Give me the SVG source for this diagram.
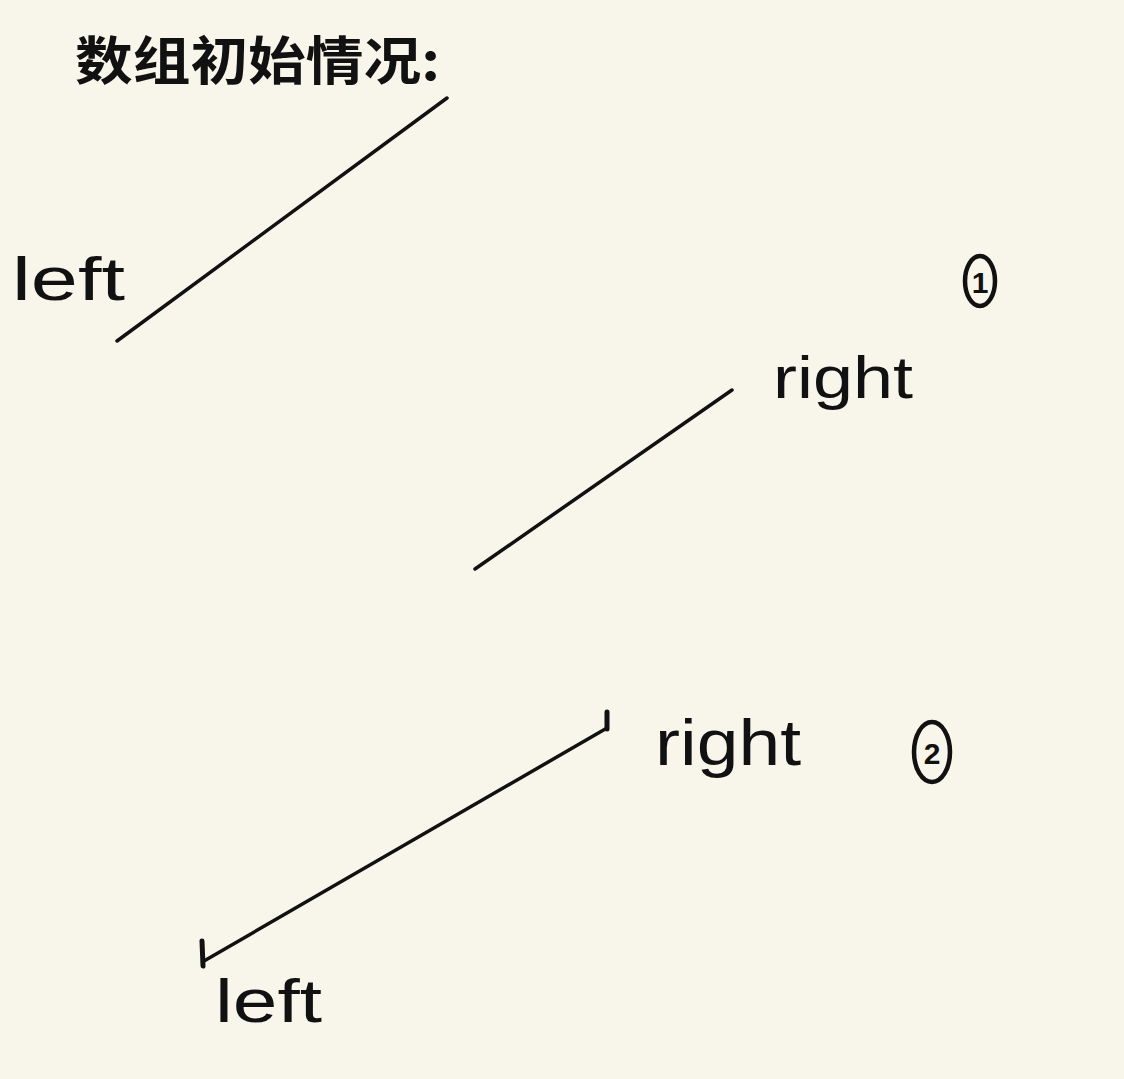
<svg xmlns="http://www.w3.org/2000/svg" width="1124" height="1079" viewBox="0 0 1124 1079">
<style>
.bg{fill:#f8f5ea}
.ln{stroke:#111;stroke-width:3.5;stroke-linecap:round;fill:none}
.tk{stroke:#111;stroke-width:5;stroke-linecap:round;fill:none}
.lbl{font-family:"Liberation Sans","Noto Sans",sans-serif;fill:#111}
.cn{font-family:"Noto Sans CJK SC","Liberation Sans",sans-serif;fill:#111;font-weight:bold}
.circ{stroke:#111;stroke-width:4.5;fill:none}
</style>
<rect class="bg" x="0" y="0" width="1124" height="1079"/>
<g id="title"><text class="cn" x="75" y="80" font-size="52" textLength="365" lengthAdjust="spacingAndGlyphs">数组初始情况:</text></g>
<g id="left1"><text class="lbl" x="12" y="300" font-size="62" textLength="113" lengthAdjust="spacingAndGlyphs">left</text></g>
<g id="right1"><text class="lbl" x="773" y="398" font-size="60" textLength="140" lengthAdjust="spacingAndGlyphs">right</text></g>
<g id="mark1"><ellipse class="circ" cx="980" cy="281" rx="15" ry="25"/><text class="lbl" x="980" y="293" font-size="30" text-anchor="middle" font-weight="bold">1</text></g>
<g id="right2"><text class="lbl" x="655" y="765" font-size="64" textLength="146" lengthAdjust="spacingAndGlyphs">right</text></g>
<g id="mark2"><ellipse class="circ" cx="932" cy="752" rx="18" ry="30"/><text class="lbl" x="932" y="764" font-size="30" text-anchor="middle" font-weight="bold">2</text></g>
<g id="left2"><text class="lbl" x="215" y="1022" font-size="62" textLength="107" lengthAdjust="spacingAndGlyphs">left</text></g>
<g id="connectors">
<line class="ln" x1="117" y1="341" x2="447" y2="98"/>
<line class="ln" x1="475" y1="569" x2="732" y2="390"/>
<line class="ln" x1="204" y1="961" x2="607" y2="728"/>
<line class="tk" x1="202" y1="941" x2="203" y2="966"/>
<line class="tk" x1="607" y1="712" x2="607" y2="729"/>
</g>
</svg>
